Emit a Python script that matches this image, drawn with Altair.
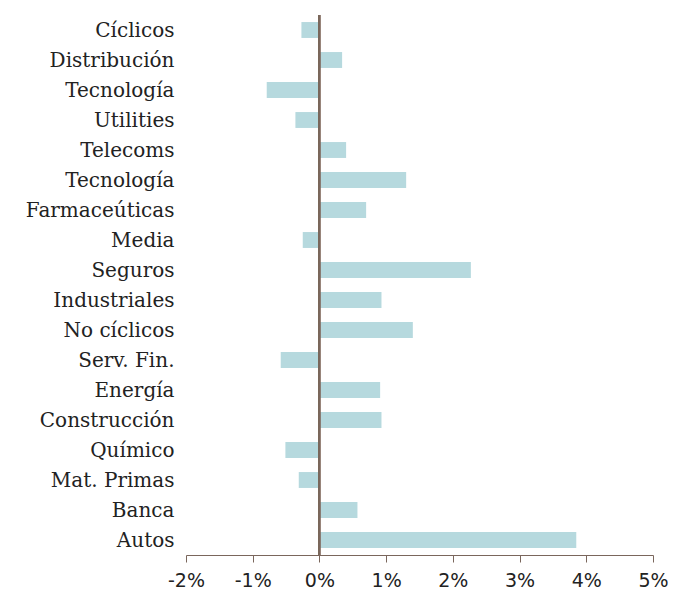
import json
import altair as alt
import pandas as pd

categories = ["Cíclicos", "Distribución", "Tecnología", "Utilities", "Telecoms",
              "Tecnología", "Farmaceúticas", "Media", "Seguros", "Industriales",
              "No cíclicos", "Serv. Fin.", "Energía", "Construcción", "Químico",
              "Mat. Primas", "Banca", "Autos"]
values = [-0.27, 0.34, -0.79, -0.36, 0.40, 1.30, 0.70, -0.25, 2.27, 0.93,
          1.40, -0.58, 0.91, 0.93, -0.51, -0.31, 0.57, 3.85]
x_ticks = [-2, -1, 0, 1, 2, 3, 4, 5]

df = pd.DataFrame({"k": list(range(len(categories))), "name": categories, "v": values})

font = "DejaVu Serif"
axis_col = "#7a665c"

label_expr = json.dumps(categories, ensure_ascii=False) + "[datum.value]"

bars = alt.Chart(df).mark_bar(color="#b6d9de").encode(
    y=alt.Y("k:O", scale=alt.Scale(paddingInner=0.47, paddingOuter=0.235),
            axis=alt.Axis(title=None, labelExpr=label_expr, domain=False, ticks=False,
                          labelFont=font, labelFontSize=20, labelColor="#222222",
                          labelPadding=12, labelBaseline="middle", labelOffset=1)),
    x=alt.X("v:Q", scale=alt.Scale(domain=[-2, 5], nice=False),
            axis=alt.Axis(title=None, values=x_ticks, labelExpr="datum.value + '%'",
                          grid=False, domainColor=axis_col, tickColor=axis_col,
                          tickSize=7, labelFont="DejaVu Sans", labelFontSize=19,
                          labelColor="#222222", labelPadding=9, domainWidth=1.2,
                          labelFlush=False, labelOverlap=False)),
)

zero = alt.Chart(df).mark_rule(color=axis_col, strokeWidth=1.3).encode(
    x=alt.datum(0)
)

chart = alt.layer(bars, zero).properties(
    width=467, height=540,
    background="white",
    autosize=alt.AutoSizeParams(type="none"),
    padding={"left": 178, "top": 7, "right": 17, "bottom": 34},
).configure_view(strokeWidth=0, stroke="transparent")

chart.save("out.html", embed_options={"renderer": "svg", "actions": False})
